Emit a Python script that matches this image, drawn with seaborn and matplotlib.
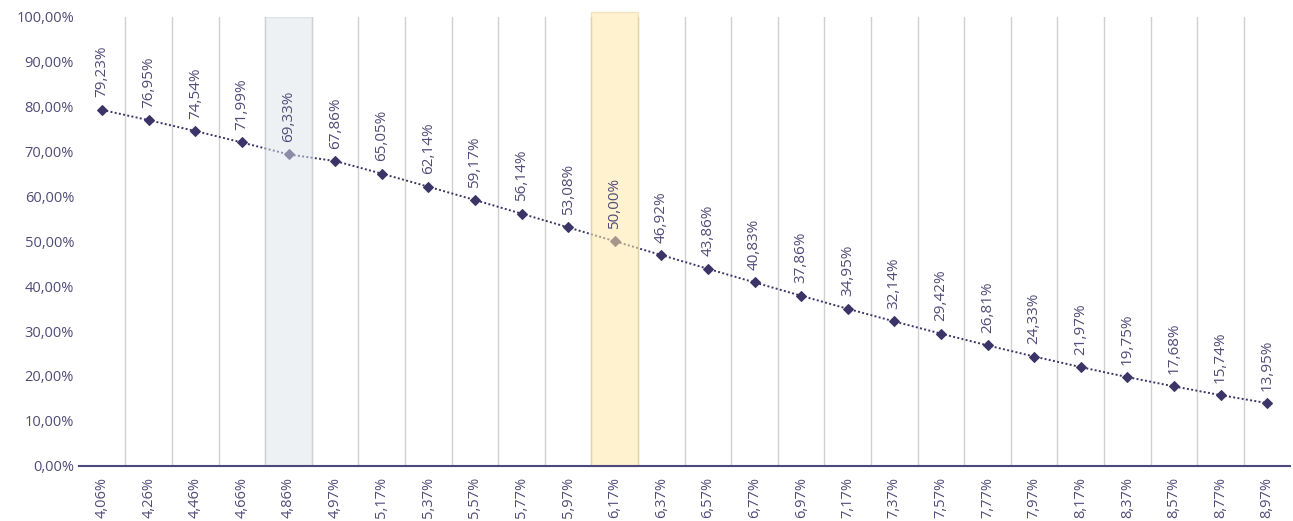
import matplotlib
matplotlib.use("Agg")
import matplotlib.pyplot as plt
import seaborn as sns

rates = ["4,06%", "4,26%", "4,46%", "4,66%", "4,86%", "4,97%", "5,17%", "5,37%", "5,57%",
         "5,77%", "5,97%", "6,17%", "6,37%", "6,57%", "6,77%", "6,97%", "7,17%", "7,37%",
         "7,57%", "7,77%", "7,97%", "8,17%", "8,37%", "8,57%", "8,77%", "8,97%"]
probs = [79.23, 76.95, 74.54, 71.99, 69.33, 67.86, 65.05, 62.14, 59.17, 56.14, 53.08,
         50.00, 46.92, 43.86, 40.83, 37.86, 34.95, 32.14, 29.42, 26.81, 24.33, 21.97,
         19.75, 17.68, 15.74, 13.95]
grey_cat = "4,86%"
gold_cat = "6,17%"

sns.set_style("white")
plt.rcParams['font.family'] = ['Open Sans', 'DejaVu Sans']
txt = "#4f4c78"
navy = "#3a3566"

fig = plt.figure(figsize=(12.93, 5.21), dpi=100)
ax = fig.add_axes([0.061, 0.106, 0.937, 0.862])

sns.lineplot(x=rates, y=probs, ax=ax, color=navy, linestyle=(0, (1, 1.2)), linewidth=1.4,
             marker="D", markersize=5, markeredgecolor=navy, zorder=3)

n = len(rates)
ax.set_xlim(-0.5, n - 0.5)
ax.set_ylim(0, 100)

# vertical separators between categories
for i in range(n - 1):
    ax.axvline(i + 0.5, color="#d0d0d0", linewidth=1, zorder=1)

# highlighted columns (translucent, over the line)
gi = rates.index(grey_cat)
ax.axvspan(gi - 0.5, gi + 0.5, ymin=0, ymax=1.0, facecolor="#dfe4eb", alpha=0.5,
           edgecolor="#c8cdd4", linewidth=1, zorder=4)
yi = rates.index(gold_cat)
ax.axvspan(yi - 0.5, yi + 0.5, ymin=0, ymax=1.01, facecolor="#ffe9a8", alpha=0.55,
           edgecolor="#e6d49a", linewidth=1, zorder=4, clip_on=False)

for i, v in enumerate(probs):
    ax.annotate(f"{v:.2f}%".replace(".", ","), (i, v), xytext=(0, 9),
                textcoords="offset points", rotation=90, ha="center", va="bottom",
                fontsize=11, color=txt, zorder=5)

ax.set_yticks(range(0, 101, 10))
ax.set_yticklabels([f"{t},00%" for t in range(0, 101, 10)])
ax.set_xticks(range(n))
ax.set_xticklabels(rates, rotation=90)
ax.tick_params(axis="both", length=0, labelsize=10.5, labelcolor=txt)
ax.tick_params(axis="x", pad=8)

for s in ["top", "right", "left"]:
    ax.spines[s].set_visible(False)
ax.spines["bottom"].set_color("#4b4880")
ax.spines["bottom"].set_linewidth(1.5)
ax.spines["bottom"].set_zorder(6)
ax.set_xlabel("")
ax.set_ylabel("")

fig.savefig("out.png", dpi=100)
